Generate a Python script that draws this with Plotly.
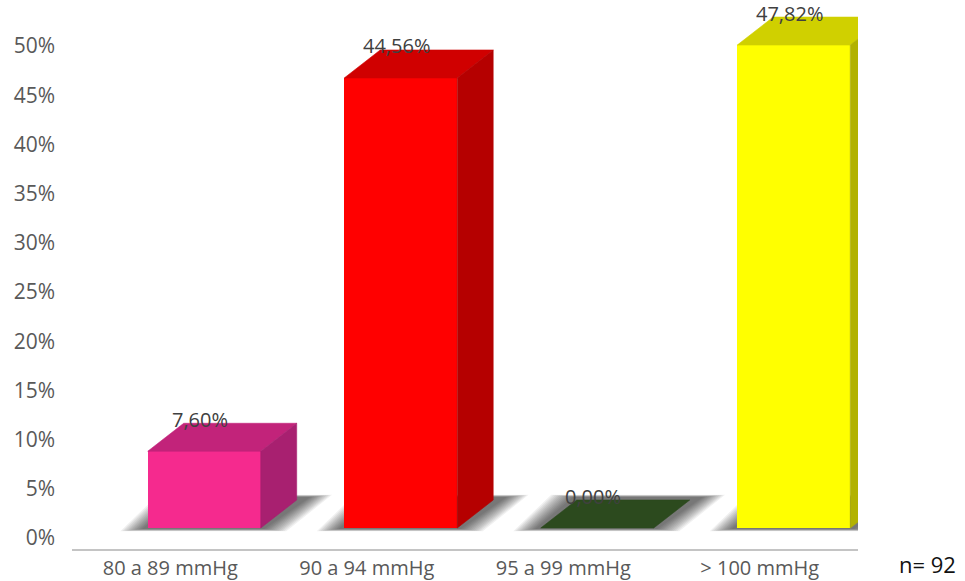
import plotly.graph_objects as go

# Distribution of readings (percent of patients) by pressure band
categories = ["80 a 89 mmHg", "90 a 94 mmHg", "95 a 99 mmHg", "> 100 mmHg"]
percentages = [7.60, 44.56, 0.00, 47.82]
value_labels = ["7,60%", "44,56%", "0,00%", "47,82%"]
tick_values = [0, 0.05, 0.10, 0.15, 0.20, 0.25, 0.30, 0.35, 0.40, 0.45, 0.50]
sample_note = "n= 92"

# Face colours for the pseudo-3D columns
front_colors = ["#F52A8E", "#FF0000", "#2F4D1F", "#FFFF00"]
top_colors = ["#C2237A", "#D00000", "#2C4A1E", "#D0D000"]
side_colors = ["#A82070", "#B50000", "#263F1A", "#B2B200"]

# Column geometry (category units / axis fraction units)
BAR_WIDTH = 0.575
BAR_OFFSET = -0.1145
DEPTH_X = 0.183
DEPTH_Y = 0.0277

FONT = "Open Sans"
values = [p / 100 for p in percentages]

fig = go.Figure()

# invisible anchor so the percentage axis is drawn
fig.add_trace(go.Scatter(x=[0], y=[0], yaxis="y", mode="markers",
                         marker=dict(opacity=0), hoverinfo="skip",
                         showlegend=False))

# soft floor shadows, stacked translucent layers beneath the columns
shapes = []
n_layers = 12
for i, v in enumerate(values):
    L = i + BAR_OFFSET
    R = L + BAR_WIDTH
    for k in range(n_layers):
        grow = 0.11 * (1 - k / (n_layers - 1))
        g_y = grow * 0.02
        xs = [L - 0.03 - grow, R + 0.02 + grow, R + DEPTH_X + 0.07 + grow,
              L + DEPTH_X - 0.02 - grow]
        ys = [-0.001 - g_y, -0.001 - g_y, DEPTH_Y + 0.003 + g_y,
              DEPTH_Y + 0.003 + g_y]
        path = "M " + " L ".join(f"{x},{y}" for x, y in zip(xs, ys)) + " Z"
        shapes.append(dict(type="path", path=path, xref="x", yref="y2",
                           layer="below", line=dict(width=0),
                           fillcolor="rgba(0,0,0,0.058)"))

# front faces of the columns
fig.add_trace(go.Bar(
    x=list(range(len(categories))), y=values, yaxis="y2",
    width=BAR_WIDTH, offset=BAR_OFFSET,
    marker=dict(color=front_colors, line=dict(width=0)),
    hoverinfo="skip", showlegend=False))

# top and side faces
for i, v in enumerate(values):
    L = i + BAR_OFFSET
    R = L + BAR_WIDTH
    fig.add_trace(go.Scatter(
        x=[L, R, R + DEPTH_X, L + DEPTH_X, L],
        y=[v, v, v + DEPTH_Y, v + DEPTH_Y, v],
        yaxis="y2", mode="lines", fill="toself", fillcolor=top_colors[i],
        line=dict(width=0.6, color=top_colors[i]),
        hoverinfo="skip", showlegend=False))
    if v > 0:
        fig.add_trace(go.Scatter(
            x=[R, R, R + DEPTH_X, R + DEPTH_X, R],
            y=[0, v, v + DEPTH_Y, DEPTH_Y, 0],
            yaxis="y2", mode="lines", fill="toself", fillcolor=side_colors[i],
            line=dict(width=0.6, color=side_colors[i]),
            hoverinfo="skip", showlegend=False))

# value labels above each column
for i, v in enumerate(values):
    fig.add_annotation(
        x=i + BAR_OFFSET + BAR_WIDTH / 2 - 0.02, y=v, xref="x", yref="y2",
        text=value_labels[i], showarrow=False, yanchor="middle", yshift=32,
        font=dict(family=FONT, size=20, color="#404040"))

# sample size note, bottom right
fig.add_annotation(
    x=(927 - 72) / 786, y=-(564 - 549) / 539, xref="paper", yref="paper",
    text=sample_note, showarrow=False, xanchor="center", yanchor="middle",
    borderpad=0, font=dict(family=FONT, size=22, color="#111111"))

fig.update_layout(
    width=965, height=581,
    margin=dict(l=72, r=107, t=10, b=32, autoexpand=False),
    paper_bgcolor="white", plot_bgcolor="white",
    bargap=0,
    shapes=shapes,
    xaxis=dict(
        range=[-0.5, 3.5], tickmode="array",
        tickvals=list(range(len(categories))), ticktext=categories,
        showgrid=False, zeroline=False, showline=True,
        linecolor="#C4C4C4", linewidth=2, ticks="",
        ticklabelstandoff=0, automargin=False,
        tickfont=dict(family=FONT, size=20, color="#595959")),
    yaxis=dict(
        range=[-0.01118, 0.5366], tickmode="array", tickvals=tick_values,
        tickformat=".0%", showgrid=False, zeroline=False, showline=False,
        ticks="", ticklabelstandoff=16, automargin=False,
        tickfont=dict(family=FONT, size=21, color="#595959")),
    yaxis2=dict(
        range=[-0.02079, 0.5129], overlaying="y", visible=False,
        showgrid=False, zeroline=False),
)

fig.write_html("out.html")
